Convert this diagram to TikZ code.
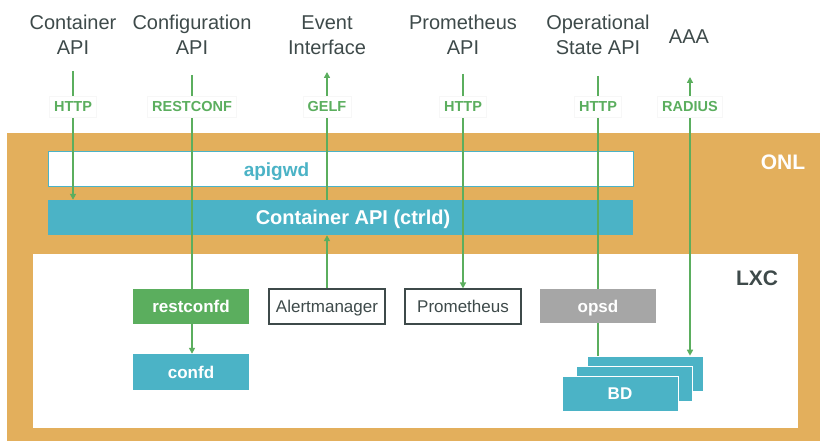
\documentclass[tikz,border=0pt]{standalone}
\usepackage{fontspec}
\setmainfont{Liberation Sans}
\usetikzlibrary{arrows.meta}
\definecolor{onlorange}{HTML}{E3AF5C}
\definecolor{ctrlteal}{HTML}{4BB3C6}
\definecolor{flowgreen}{HTML}{5BAE5E}
\definecolor{opsgray}{HTML}{A6A6A6}
\definecolor{labelgray}{HTML}{3E4A4A}
\tikzset{
	apilabel/.style={align=center, text=labelgray, font=\fontsize{20}{25}\selectfont},
	layername/.style={font=\bfseries\fontsize{21}{24}\selectfont},
	box/.style={rectangle, minimum width=116pt, minimum height=35pt, inner sep=0pt, text height=12.2pt, text depth=0pt, font=\bfseries\fontsize{17}{20}\selectfont},
	plainbox/.style={box, draw=labelgray, line width=1.2pt, fill=white, text=labelgray, font=\fontsize{17}{20}\selectfont},
	bdbox/.style={box, fill=ctrlteal, draw=white, line width=0.6pt, text=white},
	flowline/.style={draw=flowgreen, line width=1.6pt},
	flowarrow/.style={-{Triangle[width=6pt,length=6pt]}},
	proto/.style={fill=white, draw=black!3, line width=0.5pt, text=flowgreen, inner sep=4.5pt, minimum height=21pt, font=\bfseries\fontsize{14.5}{16}\selectfont}
}
\begin{document}
\begin{tikzpicture}[x=1pt,y=-1pt]
		%%%%% START %%%%%
		\useasboundingbox (0,0) rectangle (820,441);
		
		\fill[onlorange] (7,133) rectangle (820,441);
		\fill[white] (33,254) rectangle (798,428);
		\node[layername, text=white] (onl) at (783,162) {ONL};
		\node[layername, text=labelgray] (lxc) at (757,278) {LXC};
		
		\node[box, minimum width=585pt, draw=ctrlteal, line width=1pt, fill=white] (apigwd) at (340.5,169.5) {};
		\node[box, text=ctrlteal, font=\bfseries\fontsize{19}{22}\selectfont, minimum width=0pt, text height=13.6pt] (apigwd-text) at (276.5,169.5) {apigwd};
		\node[box, minimum width=585pt, fill=ctrlteal] (ctrld) at (340.5,217.5) {};
		\node[box, text=white, font=\bfseries\fontsize{20}{24}\selectfont, minimum width=0pt, text height=14.3pt] (ctrld-text) at (353,217.5) {Container API (ctrld)};
		
		\node[box, fill=flowgreen, text=white] (restconfd) at (191,306.5) {restconfd};
		\node[box, fill=ctrlteal, text=white, minimum height=36pt] (confd) at (191,372) {confd};
		\node[plainbox] (alert) at (327,306.5) {Alertmanager};
		\node[plainbox] (prom) at (463,306.5) {Prometheus};
		\node[box, fill=opsgray, text=white, minimum height=34pt] (opsd) at (598,306) {opsd};
		\node[bdbox] (bd3) at (645,373.5) {};
		\node[bdbox] (bd2) at (634,383.5) {};
		\node[bdbox] (bd1) at (620,393.5) {BD};
		
		\node[apilabel] (capi) at (73,35) {Container\\API};
		\node[apilabel] (cfgapi) at (192,35) {Configuration\\API};
		\node[apilabel] (evapi) at (327,35) {Event\\Interface};
		\node[apilabel] (promapi) at (463,35) {Prometheus\\API};
		\node[apilabel] (opapi) at (598,35) {Operational\\State API};
		\node[apilabel] (aaa) at (689,37) {AAA};
		
		\coordinate (capi-end) at (73,71);
		\coordinate (cfg-end) at (192,75);
		\coordinate (ev-end) at (327,72);
		\coordinate (prom-end) at (463,74);
		\coordinate (op-end) at (598,76);
		\coordinate (aaa-end) at (690,77);
		
		% connectors
		\draw[flowline, flowarrow] (capi-end) -- (capi-end |- ctrld.north);
		\draw[flowline] (cfg-end) -- (cfg-end |- restconfd.north);
		\draw[flowline, flowarrow] (cfg-end |- restconfd.south) -- (cfg-end |- confd.north);
		\draw[flowline, flowarrow] (alert.north) -- (alert.north |- ctrld.south);
		\draw[flowline, flowarrow] (ev-end |- ctrld.north) -- (ev-end);
		\draw[flowline, flowarrow] (prom-end) -- (prom-end |- prom.north);
		\draw[flowline] (op-end) -- (op-end |- opsd.north);
		\draw[flowline] (opsd.south) -- (opsd.south |- bd3.north);
		\draw[flowline, {Triangle[width=6pt,length=6pt]}-{Triangle[width=6pt,length=6pt]}] (aaa-end) -- (aaa-end |- bd3.north);
		
		\node[proto] (http1) at (73,107) {HTTP};
		\node[proto] (restconf) at (192,107) {RESTCONF};
		\node[proto] (gelf) at (327,107) {GELF};
		\node[proto] (http2) at (463,107) {HTTP};
		\node[proto] (http3) at (598,107) {HTTP};
		\node[proto] (radius) at (690,107) {RADIUS};
		%%%%% END %%%%%
\end{tikzpicture}
\end{document}
